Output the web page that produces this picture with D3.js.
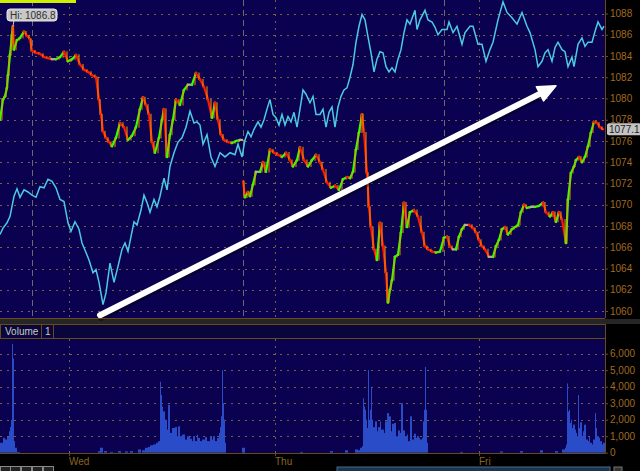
<!DOCTYPE html>
<html>
<head>
<meta charset="utf-8">
<script src="https://cdn.jsdelivr.net/npm/d3@7"></script>
<style>
  body { margin: 0; background: #000; }
  svg { display: block; }
</style>
</head>
<body>
<div id="chart"></div>
<script>
// price (bar index, last) - null breaks the line at the session gap
var price = [
  [0,1078.0],[3,1079.9],[5,1080.2],[7,1081.0],[8,1082.2],[10,1084.1],[12,1086.0],[13,1086.8],[14,1084.6],
  [17,1085.5],[20,1085.7],[24,1086.3],[27,1085.9],[30,1085.6],[32,1084.5],[36,1084.3],[40,1084.2],
  [44,1083.9],[48,1083.8],[52,1083.7],[56,1083.7],[60,1083.9],[64,1084.4],[68,1083.5],[72,1083.7],
  [76,1084.1],[80,1083.2],[84,1082.7],[88,1082.5],[92,1082.2],[96,1082.0],[99,1079.9],[101,1078.5],
  [103,1076.9],[106,1076.3],[109,1075.9],[112,1075.5],[116,1076.3],[120,1077.7],[124,1077.3],
  [128,1076.1],[132,1076.5],[136,1077.3],[140,1079.0],[143,1080.1],[146,1079.4],[149,1078.5],
  [152,1075.9],[155,1074.9],[159,1076.3],[162,1078.0],[164,1079.0],[167,1074.5],[170,1076.6],
  [173,1078.0],[176,1079.9],[180,1079.4],[184,1080.8],[188,1081.3],[192,1081.3],[196,1082.4],
  [200,1081.8],[204,1081.1],[208,1079.9],[212,1078.2],[215,1079.6],[218,1078.0],[221,1076.6],
  [224,1076.1],[228,1075.9],[232,1075.8],[236,1076.0],[240,1076.1],[242,1076.1],
  [242.5,null],
  [243,1072.2],[245,1070.7],[248,1071.2],[250,1070.8],[253,1071.9],[256,1073.1],[260,1073.1],
  [263,1074.0],[266,1073.1],[270,1075.2],[274,1074.9],[278,1074.7],[282,1074.5],[286,1074.9],
  [290,1074.2],[293,1073.6],[297,1074.2],[300,1075.4],[304,1074.2],[308,1073.6],[312,1074.2],
  [316,1074.7],[320,1074.0],[323,1073.3],[327,1072.1],[331,1071.6],[335,1071.8],[339,1071.4],
  [343,1072.4],[347,1072.6],[350,1072.5],[353,1073.1],[356,1075.2],[359,1076.8],[362,1078.5],
  [364,1076.8],[367,1073.0],[369,1069.8],[371,1067.9],[374,1065.8],[377,1064.8],[380,1068.3],
  [383,1066.1],[386,1063.6],[388,1060.8],[390,1062.0],[392,1062.9],[395,1065.1],[398,1065.3],
  [401,1067.4],[404,1070.2],[407,1067.9],[410,1069.3],[414,1069.5],[418,1068.9],[422,1067.4],
  [425,1066.1],[428,1065.8],[432,1065.6],[436,1065.5],[440,1065.6],[444,1066.9],[447,1067.0],
  [450,1066.1],[453,1065.8],[456,1065.8],[459,1067.0],[462,1067.7],[465,1068.1],[469,1068.1],
  [473,1067.8],[476,1067.4],[479,1066.7],[482,1066.1],[485,1065.8],[489,1065.1],[493,1065.1],
  [496,1066.1],[499,1066.7],[502,1067.7],[505,1067.9],[508,1067.2],[512,1067.7],[515,1067.9],
  [518,1068.1],[521,1069.3],[524,1070.0],[527,1069.7],[531,1069.8],[535,1069.8],[539,1069.9],
  [543,1070.2],[546,1069.3],[550,1068.9],[553,1069.3],[556,1068.4],[559,1069.3],[562,1068.6],
  [566,1066.4],[568,1070.5],[571,1073.0],[574,1073.6],[576,1074.2],[579,1074.5],[582,1074.0],
  [585,1074.5],[588,1075.5],[591,1076.8],[594,1077.8],[597,1077.7],[600,1077.3],[603,1077.1]
];

// cyan comparison line, drawn on the same price scale
var cyan = [
  [0,1067.2],[3,1067.8],[7,1068.3],[10,1068.9],[14,1070.8],[17,1071.5],[20,1070.7],[24,1071.4],
  [28,1071.2],[32,1070.9],[36,1070.7],[40,1071.7],[44,1071.6],[48,1072.4],[52,1072.2],[56,1071.6],
  [60,1070.5],[64,1070.3],[68,1068.3],[71,1067.5],[75,1068.4],[79,1067.7],[82,1066.4],[86,1065.5],
  [89,1064.8],[93,1063.6],[96,1063.9],[99,1062.7],[103,1060.6],[106,1061.7],[110,1064.5],
  [114,1062.7],[118,1064.2],[122,1065.8],[125,1066.4],[128,1065.6],[131,1067.0],[134,1068.4],
  [137,1068.1],[141,1069.5],[144,1070.9],[147,1070.2],[150,1069.3],[154,1070.5],[157,1069.8],
  [160,1070.8],[164,1072.5],[167,1071.4],[170,1073.6],[174,1074.9],[178,1075.9],[182,1076.3],
  [186,1077.3],[190,1078.8],[194,1077.7],[197,1077.8],[200,1077.5],[203,1075.7],[207,1076.6],
  [211,1074.5],[215,1073.6],[220,1074.9],[225,1074.5],[230,1074.9],[235,1074.7],[238,1075.7],
  [242,1074.5],[245,1076.1],[248,1076.9],[251,1076.4],[254,1077.1],[258,1077.8],[261,1077.3],
  [264,1078.0],[267,1079.0],[270,1079.9],[273,1078.5],[276,1078.2],[279,1077.5],[282,1078.5],
  [285,1077.5],[288,1078.3],[291,1077.8],[294,1078.7],[297,1077.3],[300,1079.0],[303,1080.8],
  [306,1080.4],[310,1079.6],[313,1080.2],[316,1078.5],[320,1078.5],[323,1079.0],[326,1077.3],
  [329,1078.7],[332,1079.2],[335,1077.3],[338,1079.2],[341,1080.2],[344,1080.8],[347,1081.0],
  [350,1082.0],[353,1083.2],[356,1085.3],[359,1086.8],[362,1087.9],[365,1087.4],[368,1085.8],
  [371,1084.3],[374,1082.5],[377,1083.7],[380,1084.4],[383,1084.3],[386,1083.0],[389,1082.5],
  [392,1082.9],[395,1082.5],[398,1083.7],[401,1084.6],[404,1086.2],[407,1087.4],[410,1087.0],
  [415,1088.3],[417,1086.5],[420,1087.4],[425,1088.3],[428,1087.4],[432,1087.2],[435,1086.7],
  [438,1086.0],[442,1086.5],[447,1086.5],[449,1087.2],[453,1086.2],[457,1086.8],[462,1085.1],
  [465,1086.2],[470,1086.8],[473,1086.8],[478,1085.1],[482,1085.1],[486,1083.5],[490,1084.6],
  [493,1085.3],[498,1087.4],[503,1089.1],[507,1088.1],[512,1087.6],[517,1087.0],[522,1088.1],
  [527,1086.8],[530,1086.2],[535,1084.6],[538,1083.0],[542,1083.5],[545,1084.3],[548,1084.6],
  [552,1083.5],[555,1084.8],[558,1085.3],[562,1084.6],[565,1084.4],[568,1083.0],[572,1083.9],
  [574,1083.0],[578,1085.1],[582,1085.7],[585,1084.9],[588,1085.3],[592,1085.3],[595,1086.3],
  [598,1087.2],[602,1086.5],[604,1086.8]
];

var volume = [
  [0,600],[3,900],[5,800],[7,950],[9,1300],[10,1550],[11,2000],[12,6600],[13,5700],[14,700],[15,300],
  [17,50],[30,0],[60,0],[98,100],[100,300],[104,100],[110,50],[118,100],[125,80],[130,100],[138,200],
  [142,150],[145,300],[148,350],[150,450],[153,500],[156,600],[158,700],[160,4300],[161,3500],
  [162,2800],[163,2500],[165,2000],[167,1400],[168,2900],[170,1200],[172,1500],[175,1550],[177,1000],
  [178,1600],[180,1000],[182,1100],[185,800],[187,1000],[190,850],[192,700],[193,1000],[195,700],
  [197,1100],[198,900],[200,700],[202,800],[205,950],[207,700],[210,1000],[212,800],[213,1000],
  [215,700],[217,900],[219,1200],[220,1550],[221,2200],[222,5000],[223,3000],[224,2000],[225,600],
  [226,0],[242,300],[260,0],[300,50],[330,100],[345,150],[355,200],[358,150],[360,300],[362,400],
  [363,3300],[364,2800],[365,2600],[366,2000],[367,1500],[368,5000],[369,2000],[370,2600],[371,4000],
  [372,2000],[373,1550],[375,1900],[377,1300],[378,1550],[380,1900],[381,1400],[382,1400],[384,1200],
  [385,1900],[387,2400],[389,2200],[391,1300],[392,1750],[394,1800],[396,1000],[398,1350],[400,1200],
  [401,3000],[403,1350],[405,1000],[407,1100],[408,700],[410,2200],[412,800],[414,1150],[416,900],
  [417,1000],[419,900],[420,800],[422,900],[423,1900],[424,2600],[425,5200],[426,2600],[427,600],
  [428,0],[460,50],[500,80],[520,100],[540,150],[555,100],[562,200],[565,300],[566,500],[567,4200],
  [568,2500],[569,2600],[570,1800],[571,2000],[572,1500],[573,1700],[575,1400],[576,1200],[577,1000],
  [578,3500],[579,1500],[580,1850],[582,1000],[583,1300],[584,1700],[586,800],[588,700],[589,1000],
  [590,600],[592,500],[593,800],[595,2400],[596,1500],[597,1000],[599,900],[600,700],[602,500],
  [603,600],[604,600]
];

var priceTicks = d3.range(1060, 1089, 2);
var volTicks = [0, 1000, 2000, 3000, 4000, 5000, 6000];
var days = [{t: 69, label: "Wed"}, {t: 275, label: "Thu"}, {t: 479, label: "Fri"}];
var sessionBreaks = [32, 243, 444];
var hiLabel = {t: 13, v: 1086.8};
var lastValue = 1077.1;
var arrow = {from: [100, 1059.6], to: [556, 1081.2]};

var W = 640, H = 471;
var pane = {left: 0, right: 605, top: 0, bottom: 318};
var volPane = {top: 339, bottom: 453};

var svg = d3.select("#chart").append("svg")
  .attr("width", W).attr("height", H)
  .style("font-family", "'Liberation Sans', Arial, sans-serif");

svg.append("rect").attr("width", W).attr("height", H).attr("fill", "#000");

var x = d3.scaleLinear().domain([0, 605]).range([pane.left, pane.right]);
var y = d3.scaleLinear().domain([1060, 1088]).range([311, 13.5]);
var yv = d3.scaleLinear().domain([0, 6000]).range([452.7, 353.7]);

// backgrounds
svg.append("rect").attr("x", 0).attr("y", 0).attr("width", pane.right).attr("height", pane.bottom)
  .attr("fill", "#0a0150");
svg.append("rect").attr("x", 0).attr("y", 319).attr("width", W).attr("height", 5).attr("fill", "#262626");
svg.append("rect").attr("x", 0).attr("y", 324).attr("width", pane.right).attr("height", 15).attr("fill", "#08063a");
svg.append("rect").attr("x", 0).attr("y", volPane.top).attr("width", pane.right)
  .attr("height", volPane.bottom - volPane.top).attr("fill", "#0a0150");

// grid: horizontal dotted
var grid = svg.append("g").attr("stroke", "#7a6040").attr("stroke-dasharray", "2,5").attr("stroke-width", 1);
priceTicks.forEach(function(t) {
  grid.append("line").attr("x1", 0).attr("x2", pane.right).attr("y1", Math.round(y(t)) + 0.5).attr("y2", Math.round(y(t)) + 0.5);
});
volTicks.slice(1).forEach(function(t) {
  grid.append("line").attr("x1", 0).attr("x2", pane.right).attr("y1", Math.round(yv(t)) + 0.5).attr("y2", Math.round(yv(t)) + 0.5);
});
// vertical day lines (dotted) and session breaks (dashed gray)
days.forEach(function(d) {
  var xx = Math.round(x(d.t)) + 0.5;
  grid.append("line").attr("x1", xx).attr("x2", xx).attr("y1", 0).attr("y2", pane.bottom);
  grid.append("line").attr("x1", xx).attr("x2", xx).attr("y1", volPane.top).attr("y2", volPane.bottom);
});
sessionBreaks.forEach(function(t) {
  var xx = Math.round(x(t)) + 0.5;
  svg.append("line").attr("x1", xx).attr("x2", xx).attr("y1", 0).attr("y2", pane.bottom)
    .attr("stroke", "#6a6a6a").attr("stroke-dasharray", "6,4");
});

// volume bars
var vb = svg.append("g");
volume.forEach(function(d, i) {
  var next = volume[i + 1] ? volume[i + 1][0] : d[0] + 1;
  var w = Math.max(1, Math.min(3, x(next) - x(d[0])));
  vb.append("rect").attr("x", x(d[0])).attr("width", w)
    .attr("y", yv(d[1])).attr("height", yv(0) - yv(d[1]))
    .attr("fill", "#2a4cc8");
});

// cyan line
svg.append("path").datum(cyan)
  .attr("d", d3.line().x(function(d) { return x(d[0]); }).y(function(d) { return y(d[1]); }))
  .attr("fill", "none").attr("stroke", "#4ccae2").attr("stroke-width", 1.5);

// price line, green up / red down, with a vertical bar at each new value
var pg = svg.append("g").attr("stroke-linecap", "square");
for (var i = 1; i < price.length; i++) {
  var a = price[i - 1], b = price[i];
  if (a[1] == null || b[1] == null) continue;
  var col = b[1] > a[1] ? "#33ff00" : (b[1] < a[1] ? "#ff1500" : "#b0b0a0");
  pg.append("line").attr("x1", x(a[0])).attr("y1", y(a[1])).attr("x2", x(b[0])).attr("y2", y(b[1]))
    .attr("stroke", col).attr("stroke-width", 2.2);
  pg.append("line").attr("x1", x(b[0]) - 1).attr("y1", y(a[1])).attr("x2", x(b[0]) - 1).attr("y2", y(b[1]))
    .attr("stroke", b[1] > a[1] ? "#ff8a00" : "#ffa000").attr("stroke-width", 1.2).attr("stroke-opacity", 0.8);
}

// arrow annotation
var ax1 = x(arrow.from[0]), ay1 = y(arrow.from[1]), ax2 = x(arrow.to[0]), ay2 = y(arrow.to[1]);
var ang = Math.atan2(ay2 - ay1, ax2 - ax1);
var hl = 18, hw = 8;
var bx = ax2 - hl * Math.cos(ang), by = ay2 - hl * Math.sin(ang);
var head = [[ax2, ay2],
  [bx + hw * Math.sin(ang), by - hw * Math.cos(ang)],
  [bx - hw * Math.sin(ang), by + hw * Math.cos(ang)]];
var ag = svg.append("g");
ag.append("line").attr("x1", ax1 + 1).attr("y1", ay1 + 2).attr("x2", bx + 1).attr("y2", by + 2)
  .attr("stroke", "#000").attr("stroke-opacity", 0.4).attr("stroke-width", 7).attr("stroke-linecap", "round");
ag.append("line").attr("x1", ax1).attr("y1", ay1).attr("x2", bx + 2 * Math.cos(ang)).attr("y2", by + 2 * Math.sin(ang))
  .attr("stroke", "#fff").attr("stroke-width", 6).attr("stroke-linecap", "round");
ag.append("polygon").attr("points", head.map(function(p) { return p.join(","); }).join(" "))
  .attr("fill", "#fff").attr("stroke", "#fff").attr("stroke-width", 1.5).attr("stroke-linejoin", "round");

// pane borders
var border = "#6a4a18";
svg.append("line").attr("x1", 0).attr("x2", pane.right).attr("y1", pane.bottom + 0.5).attr("y2", pane.bottom + 0.5).attr("stroke", border);
svg.append("line").attr("x1", pane.right + 0.5).attr("x2", pane.right + 0.5).attr("y1", 0).attr("y2", pane.bottom).attr("stroke", border);
svg.append("rect").attr("x", 0.5).attr("y", 324.5).attr("width", pane.right).attr("height", 14).attr("fill", "none").attr("stroke", border);
svg.append("line").attr("x1", 0).attr("x2", pane.right).attr("y1", volPane.bottom + 0.5).attr("y2", volPane.bottom + 0.5).attr("stroke", border);
svg.append("line").attr("x1", pane.right + 0.5).attr("x2", pane.right + 0.5).attr("y1", volPane.top).attr("y2", volPane.bottom).attr("stroke", border);
svg.append("line").attr("x1", 41.5).attr("x2", 41.5).attr("y1", 324).attr("y2", 339).attr("stroke", border);
svg.append("line").attr("x1", 53.5).attr("x2", 53.5).attr("y1", 324).attr("y2", 339).attr("stroke", border);

svg.append("text").attr("x", 5).attr("y", 335).attr("fill", "#c8c8c8").attr("font-size", 10).text("Volume");
svg.append("text").attr("x", 45).attr("y", 335).attr("fill", "#c8c8c8").attr("font-size", 10).text("1");

// right axes
var axisColor = "#a06a20";
var yAxis = svg.append("g").attr("transform", "translate(" + pane.right + ",0)")
  .call(d3.axisRight(y).tickValues(priceTicks).tickSize(3).tickPadding(2).tickFormat(d3.format("d")));
var vAxis = svg.append("g").attr("transform", "translate(" + pane.right + ",0)")
  .call(d3.axisRight(yv).tickValues(volTicks).tickSize(3).tickPadding(2).tickFormat(d3.format(",")));
[yAxis, vAxis].forEach(function(g) {
  g.select(".domain").remove();
  g.selectAll(".tick line").attr("stroke", border);
  g.selectAll(".tick text").attr("fill", axisColor).attr("font-size", 10)
    .attr("font-family", "'Liberation Sans', Arial, sans-serif");
});

// day labels
days.forEach(function(d) {
  svg.append("text").attr("x", x(d.t)).attr("y", 465).attr("fill", "#8c6420").attr("font-size", 10).text(d.label);
  svg.append("line").attr("x1", Math.round(x(d.t)) + 0.5).attr("x2", Math.round(x(d.t)) + 0.5)
    .attr("y1", 453).attr("y2", 456).attr("stroke", border);
});

// last value tag
var lv = svg.append("g").attr("transform", "translate(607," + (y(lastValue) - 6) + ")");
lv.append("rect").attr("width", 34).attr("height", 12).attr("rx", 2).attr("fill", "#c4c4c4");
lv.append("text").attr("x", 2).attr("y", 10).attr("font-size", 10).attr("fill", "#1a1a1a").text(lastValue.toFixed(1));

// high tag
var hx = x(hiLabel.t), hy = y(hiLabel.v);
svg.append("line").attr("x1", hx).attr("y1", hy).attr("x2", hx + 1).attr("y2", 20).attr("stroke", "#c8c8c8");
var hg = svg.append("g").attr("transform", "translate(7,9)");
hg.append("rect").attr("width", 50).attr("height", 12).attr("rx", 3).attr("fill", "#c8c8c8").attr("stroke", "#e8e8e8");
hg.append("text").attr("x", 3).attr("y", 10).attr("font-size", 10).attr("fill", "#303030").text("Hi: " + hiLabel.v.toFixed(1));

// top marker bar and bottom toolbar bits
svg.append("rect").attr("x", 0).attr("y", 0).attr("width", 76).attr("height", 3).attr("fill", "#ccf000");
var tb = svg.append("g");
[0, 10, 21, 32, 43].forEach(function(px) {
  tb.append("rect").attr("x", px + 0.5).attr("y", 466.5).attr("width", 10).attr("height", 6)
    .attr("fill", "#222").attr("stroke", "#888");
});
svg.append("rect").attr("x", 337).attr("y", 467).attr("width", 273).attr("height", 5).attr("fill", "#1c3452").attr("stroke", "#4a6a8a");
svg.append("rect").attr("x", 614).attr("y", 467).attr("width", 8).attr("height", 5).attr("fill", "#333").attr("stroke", "#777");
</script>
</body>
</html>
